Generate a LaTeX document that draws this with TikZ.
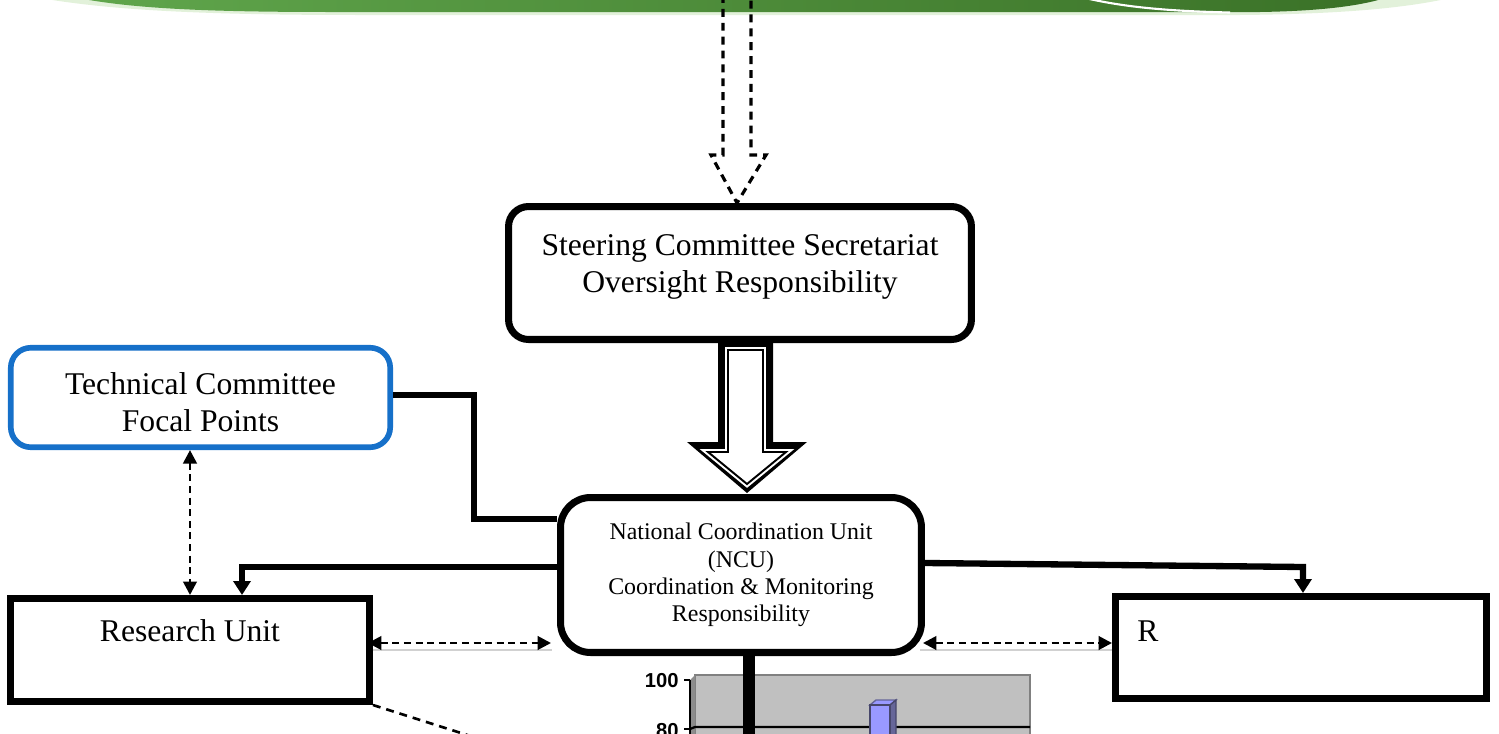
\documentclass[tikz,border=0pt]{standalone}
\usepackage{fontspec}
\setmainfont{Liberation Serif}
\newfontfamily\chartfont{Liberation Sans}
\usetikzlibrary{arrows.meta}
\definecolor{techblue}{RGB}{22,112,201}
\definecolor{bannerL}{RGB}{96,166,76}
\definecolor{bannerR}{RGB}{58,113,39}
\definecolor{bannerlight}{RGB}{226,241,218}
\definecolor{plotgray}{RGB}{192,192,192}
\definecolor{plotedge}{RGB}{128,128,128}
\definecolor{barfront}{RGB}{153,153,255}
\definecolor{barside}{RGB}{102,102,153}
\begin{document}
\begin{tikzpicture}[x=0.02cm,y=-0.02cm,
  box/.style={draw=black, line width=4pt, fill=white, inner sep=0pt},
  rbox/.style={box, rounded corners=0.4cm},
  conn/.style={line width=3.6pt},
  tip/.style={-{Triangle[length=0.28cm,width=0.34cm]}},
  dconn/.style={line width=1.6pt, dash pattern=on 4pt off 2.6pt,
     {Triangle[length=0.27cm,width=0.27cm]}-{Triangle[length=0.27cm,width=0.27cm]}},
  shadowline/.style={draw=black!18, line width=1.1pt},
  dline/.style={line width=1.5pt, dash pattern=on 4.5pt off 3.4pt},
  big/.style={font=\fontsize{18}{21}\selectfont, align=center, inner sep=0pt},
  small/.style={font=\fontsize{13.6}{15.5}\selectfont, align=center, inner sep=0pt},
  hollowdash/.style={line width=1.8pt, dash pattern=on 4.5pt off 3.4pt}
]
\useasboundingbox (0,0) rectangle (1499,734);
\clip (0,0) rectangle (1499,734);

% banner
\fill[bannerlight] (40,-2) .. controls (110,10) and (200,15) .. (360,15) -- (1240,15) .. controls (1350,14) and (1410,7) .. (1450,-2) -- cycle;
\shade[left color=bannerL, right color=bannerR] (78,-2) .. controls (130,8) and (200,12) .. (330,12) -- (1260,12) .. controls (1320,11) and (1360,6) .. (1385,-2) -- cycle;
\draw[white, line width=1.2pt] (1085,-2) .. controls (1120,6) and (1160,11) .. (1230,12.5);

% chart
\fill[plotgray, draw=plotedge, line width=1.2pt] (695,675) rectangle (1030,760);
\fill[black!45] (690,680) -- (695,675) -- (695,760) -- (690,760) -- cycle;
\draw[line width=1.3pt] (1030,727) -- (695,727) -- (690,729);
\draw[line width=1.3pt] (690,680) -- (690,760);
\draw[line width=1.3pt] (684,680) -- (690,680);
\draw[line width=1.3pt] (684,729) -- (690,729);
\node[font=\chartfont\bfseries\fontsize{11.5}{12}\selectfont, anchor=east, inner sep=0pt] (l100) at (679,681) {100};
\node[font=\chartfont\bfseries\fontsize{11.5}{12}\selectfont, anchor=east, inner sep=0pt] (l80) at (679,731) {80};
\fill[barfront, draw=barside, line width=0.8pt] (870,705) -- (876,700) -- (896,700) -- (890,705) -- cycle;
\fill[barside, draw=barside!70!black, line width=0.8pt] (890,705) -- (896,700) -- (896,760) -- (890,760) -- cycle;
\fill[barfront, draw=barside!70!black, line width=0.8pt] (870,705) rectangle (890,760);

% boxes
\node[rbox, minimum width=9.26cm, minimum height=2.66cm] (steer) at (740,273) {};
\node[big] (steertxt) at (740,267) {Steering Committee Secretariat\\Oversight Responsibility};

\node[box, rounded corners=0.6cm, minimum width=7.22cm, minimum height=3.1cm, small] (ncu) at (741,575)
  {National Coordination Unit\\(NCU)\\Coordination \& Monitoring\\Responsibility};

\node[box, draw=techblue, line width=3.2pt, rounded corners=0.4cm, minimum width=7.59cm, minimum height=1.99cm] (tech) at (200.5,397.5) {};
\node[big] (techtxt) at (200.5,402) {Technical Committee\\Focal Points};

\node[box, minimum width=7.18cm, minimum height=2.06cm] (res) at (190,650) {};
\node[big] (restxt) at (190,631) {Research Unit};

\node[box, minimum width=7.42cm, minimum height=2.04cm] (rb) at (1301,647.5) {};
\node[big, anchor=west] (rtxt) at (1137,631) {R};

% top dashed hollow arrow
\draw[hollowdash] (723,-5) -- (723,155) -- (711,155) -- ([xshift=-0.06cm]steer.north) -- (766,155) -- (751,155) -- (751,-5);

% hollow block arrow
\fill[black] (718,340) -- (773,340) -- (773,442) -- (807,442) -- (747,493) -- (687,442) -- (718,442) -- cycle;
\filldraw[white, line width=3.4pt] (728,350) -- (763,350) -- (763,452) -- (786,452) -- (747,484) -- (708,452) -- (728,452) -- cycle;
\draw[black, line width=1.1pt] (728,350) -- (763,350) -- (763,452) -- (786,452) -- (747,484) -- (708,452) -- (728,452) -- cycle;

% connectors
\coordinate (j1) at (474,395);
\coordinate (j1a) at (474,519);
\draw[conn] (tech.east |- j1) -- (j1) -- (j1a) -- (j1a -| ncu.west);

\coordinate (j2) at (242,567);
\draw[conn, tip] (j2 -| ncu.west) -- (j2) -- (j2 |- res.north);

\coordinate (j3a) at (0,563);
\coordinate (j3) at (1303,567);
\draw[conn, tip] (j3a -| ncu.east) -- (j3) -- (j3 |- rb.north);

\coordinate (d1) at (190,0);
\draw[dconn] (d1 |- tech.south) -- (d1 |- res.north);

\coordinate (d2) at (0,643);
\coordinate (d2s) at (0,650);
\draw[shadowline] (d2s -| res.east) -- ([xshift=-0.1cm]d2s -| ncu.west);
\draw[shadowline] ([xshift=-0.1cm]d2s -| ncu.east) -- (d2s -| rb.west);
\draw[dconn] ([xshift=-0.1cm]d2 -| res.east) -- ([xshift=-0.12cm]d2 -| ncu.west);
\draw[dconn] ([xshift=-0.04cm]d2 -| ncu.east) -- (d2 -| rb.west);

\draw[dline] (res.south east) -- ++(110,35);

\coordinate (v) at (749,760);
\draw[line width=6.8pt] (v |- ncu.south) -- (v);
\end{tikzpicture}
\end{document}
